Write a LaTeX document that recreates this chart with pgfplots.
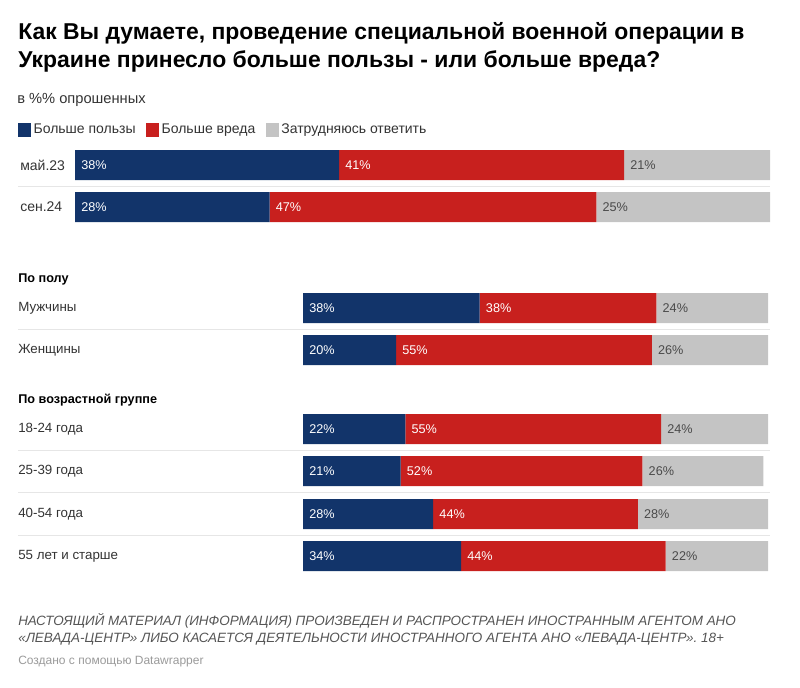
\documentclass[border=0pt]{standalone}
\usepackage{fontspec}
\setmainfont{Liberation Sans}
\usepackage{pgfplots}
\usepackage{pgfplotstable}
\pgfplotsset{compat=1.18}
\definecolor{cblue}{HTML}{12346A}
\definecolor{cred}{HTML}{C8201E}
\definecolor{cgray}{HTML}{C4C4C4}
\definecolor{ctext}{HTML}{333333}
\definecolor{cglab}{HTML}{4A4A4A}
\definecolor{csep}{HTML}{E6E6E6}
\definecolor{cfoot}{HTML}{555555}
\definecolor{clight}{HTML}{9A9A9A}
\newcommand{\px}{0.75pt}

\pgfplotstableread{
y z b r g
165 0 38 41 21
207 0 28 47 25
}\topdata

\pgfplotstableread{
y z b r g
308 0 38 38 24
350 0 20 55 26
429 0 22 55 24
471 0 21 52 26
514 0 28 44 28
556 0 34 44 22
}\botdata

\pgfplotsset{
  frame/.style={axis lines=none, xmin=0, xmax=100, y dir=reverse,
    scale only axis, anchor=north west, clip=true},
  barstyle/.style={frame, xbar stacked, bar width=22.5pt},
  lab/.style={only marks, mark=none, point meta=explicit symbolic,
    nodes near coords={\pgfplotspointmeta\%},
    every node near coord/.style={anchor=west, inner sep=0pt, xshift=4.5pt,
      font=\fontsize{9.5}{11}\selectfont, text=#1}},
}

\begin{document}
\begin{tikzpicture}
\path[use as bounding box] (0,0) rectangle (800*\px,-687*\px);

% title
\node[anchor=base west, inner sep=0, text=black] at (18*\px,-39*\px) {\fontsize{17.2}{20}\selectfont\bfseries Как Вы думаете, проведение специальной военной операции в};
\node[anchor=base west, inner sep=0, text=black] at (18*\px,-67*\px) {\fontsize{17.2}{20}\selectfont\bfseries Украине принесло больше пользы - или больше вреда?};
\node[anchor=base west, inner sep=0, text=ctext] at (17*\px,-103*\px) {\fontsize{11}{13}\selectfont в \%\% опрошенных};

% separators
\foreach \yy in {186,329,450,492,535}{
  \draw[csep, line width=0.75pt] (18*\px,-\yy*\px) -- (770*\px,-\yy*\px);
}

% row labels
\foreach \yy/\tx in {165/май.23, 207/сен.24}{
  \node[anchor=west, inner sep=0, text=ctext] at (20*\px,-\yy*\px) {\fontsize{10.5}{12}\selectfont \tx};
}
\node[anchor=west, inner sep=0, text=black] at (18*\px,-279*\px) {\fontsize{9.5}{12}\selectfont\bfseries По полу};
\node[anchor=west, inner sep=0, text=black] at (18*\px,-400*\px) {\fontsize{9.5}{12}\selectfont\bfseries По возрастной группе};
\foreach \yy/\tx in {308/Мужчины, 350/Женщины, 429/18-24 года, 471/25-39 года, 514/40-54 года, 556/55 лет и старше}{
  \node[anchor=west, inner sep=0, text=ctext] at (18*\px,-\yy*\px) {\fontsize{10}{12}\selectfont \tx};
}

% footer
\node[anchor=base west, inner sep=0, text=cfoot] at (18*\px,-625*\px) {\fontsize{10.1}{12}\selectfont\itshape НАСТОЯЩИЙ МАТЕРИАЛ (ИНФОРМАЦИЯ) ПРОИЗВЕДЕН И РАСПРОСТРАНЕН ИНОСТРАННЫМ АГЕНТОМ АНО};
\node[anchor=base west, inner sep=0, text=cfoot] at (18*\px,-642*\px) {\fontsize{10.1}{12}\selectfont\itshape «ЛЕВАДА-ЦЕНТР» ЛИБО КАСАЕТСЯ ДЕЯТЕЛЬНОСТИ ИНОСТРАННОГО АГЕНТА АНО «ЛЕВАДА-ЦЕНТР». 18+};
\node[anchor=base west, inner sep=0, text=clight] at (18*\px,-664*\px) {\fontsize{9}{11}\selectfont Создано с помощью Datawrapper};

% top block: bars
\begin{axis}[barstyle, at={(56.25pt,-108.75pt)}, width=521.25pt, height=61.5pt,
  ymin=145, ymax=227,
  legend columns=3,
  legend style={at={(-0.082,1.29)}, anchor=north west, draw=none, fill=none,
    inner xsep=0pt, inner ysep=0pt, font=\fontsize{10.5}{12}\selectfont, text=ctext,
    /tikz/every even column/.append style={column sep=6pt}},
  legend image code/.code={\fill[#1] (0pt,-5.5pt) rectangle (9.5pt,5.5pt);},
]
\addplot[fill=cblue, draw=none] table[x=b, y=y] {\topdata};
\addlegendentry{Больше пользы}
\addplot[fill=cred, draw=none] table[x=r, y=y] {\topdata};
\addlegendentry{Больше вреда}
\addplot[fill=cgray, draw=none] table[x=g, y=y] {\topdata};
\addlegendentry{Затрудняюсь ответить}
\end{axis}
% top block: labels
\begin{axis}[frame, at={(56.25pt,-108.75pt)}, width=521.25pt, height=61.5pt,
  ymin=145, ymax=227]
\addplot[lab=white] table[x=z, y=y, meta=b] {\topdata};
\addplot[lab=white] table[x=b, y=y, meta=r] {\topdata};
\addplot[lab=cglab] table[x expr=\thisrow{b}+\thisrow{r}, y=y, meta=g] {\topdata};
\end{axis}

% bottom block: bars
\begin{axis}[barstyle, at={(227.25pt,-216pt)}, width=348.75pt, height=216pt,
  ymin=288, ymax=576]
\addplot[fill=cblue, draw=none] table[x=b, y=y] {\botdata};
\addplot[fill=cred, draw=none] table[x=r, y=y] {\botdata};
\addplot[fill=cgray, draw=none] table[x=g, y=y] {\botdata};
\end{axis}
% bottom block: labels
\begin{axis}[frame, at={(227.25pt,-216pt)}, width=348.75pt, height=216pt,
  ymin=288, ymax=576]
\addplot[lab=white] table[x=z, y=y, meta=b] {\botdata};
\addplot[lab=white] table[x=b, y=y, meta=r] {\botdata};
\addplot[lab=cglab] table[x expr=\thisrow{b}+\thisrow{r}, y=y, meta=g] {\botdata};
\end{axis}
\end{tikzpicture}
\end{document}
